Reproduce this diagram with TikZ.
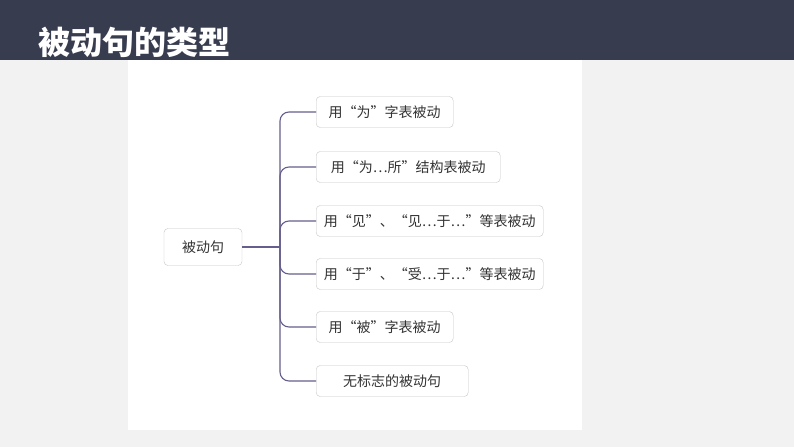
\documentclass[tikz,border=0pt]{standalone}
\usepackage{fontspec}
\newfontfamily\cjk{Noto Sans CJK SC}
\newfontfamily\cjkb{Noto Sans CJK SC Black}
\begin{document}
\begin{tikzpicture}[x=1pt,y=-1pt,
  box/.style={draw=gray!45,rounded corners=4pt,fill=white,inner xsep=0pt,minimum height=31pt,font=\cjk\fontsize{14}{16}\selectfont,text=black!80},
  link/.style={draw={rgb,255:red,100;green,95;blue,140},line width=1.1pt,rounded corners=9pt}]
\useasboundingbox (0,0) rectangle (794,447);
\fill[gray!10] (0,0) rectangle (794,447);
\fill[white] (128,60) rectangle (582,430);
\fill[fill={rgb,255:red,56;green,60;blue,79}] (0,0) rectangle (794,60);
\node[anchor=west,text=white,font=\cjkb\fontsize{32}{34}\selectfont,inner sep=0pt] (title) at (38,42) {被动句的类型};
\node[box,minimum width=78pt,minimum height=37pt] (root) at (203,247) {被动句};
\node[box,anchor=west,minimum width=137pt] (c1) at (316,112) {用“为”字表被动};
\node[box,anchor=west,minimum width=184pt] (c2) at (316,167) {用“为…所”结构表被动};
\node[box,anchor=west,minimum width=227pt] (c3) at (316,221) {用“见”、“见…于…”等表被动};
\node[box,anchor=west,minimum width=227pt] (c4) at (316,274) {用“于”、“受…于…”等表被动};
\node[box,anchor=west,minimum width=137pt] (c5) at (316,327) {用“被”字表被动};
\node[box,anchor=west,minimum width=152pt] (c6) at (316,381) {无标志的被动句};
\coordinate (j) at (280,247);
\draw[link] (root.east) -- (j);
\foreach \c in {c1,c2,c3,c4,c5,c6}{\draw[link] (j) |- (\c.west);}
\end{tikzpicture}
\end{document}
